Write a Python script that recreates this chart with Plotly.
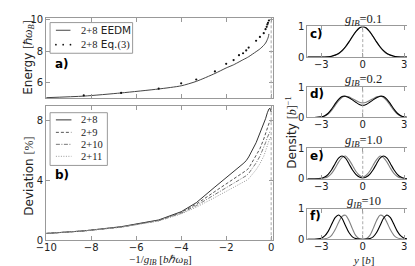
import plotly.graph_objects as go

W, H = 415, 266
def fx(p): return p / W
def fy(p): return 1 - p / H

SERIF = "Liberation Serif"
SANS = "DejaVu Sans"

# ---------------- data ----------------
# panel a: energy vs -1/g_IB
x_eedm = [-10, -8.33, -6.67, -5, -4, -3.33, -2.5, -2, -1.67, -1.43, -1.25, -1.11, -1,
          -0.67, -0.5, -0.33, -0.25, -0.2, -0.17, -0.14, -0.12, -0.1]
e_eedm = [5.07, 5.17, 5.37, 5.62, 5.82, 6.1, 6.6, 6.95, 7.15, 7.33, 7.47, 7.57, 7.66,
          7.98, 8.15, 8.38, 8.52, 8.65, 8.75, 8.85, 8.95, 9.1]
x_eq3 = [-8.33, -6.67, -5, -4, -3.33, -2.5, -2, -1.67, -1.43, -1.25, -1.11, -1,
         -0.67, -0.5, -0.33, -0.25, -0.2, -0.17, -0.14, -0.1]
e_eq3 = [5.21, 5.37, 5.64, 5.98, 6.22, 6.73, 7.21, 7.45, 7.76, 7.88, 8.06, 8.24,
         8.67, 8.91, 9.15, 9.4, 9.55, 9.7, 9.8, 9.95]

# panel b: deviation [%]
x_dev = [-10, -8.33, -6.67, -5, -4, -3.33, -2.5, -2, -1.67, -1.43, -1.25, -1.11, -1,
         -0.67, -0.5, -0.33, -0.25, -0.17, -0.1, -0.05, 0]
dev_8 = [0.45, 0.62, 0.9, 1.35, 1.9, 2.5, 3.55, 4.15, 4.55, 4.85, 5.1, 5.3, 5.55,
         6.5, 7.1, 7.7, 8.1, 8.5, 8.75, 8.8, 8.55]
dev_9 = [0.45, 0.62, 0.88, 1.32, 1.85, 2.4, 3.25, 3.75, 4.05, 4.3, 4.5, 4.65, 4.8,
         5.6, 6.1, 6.75, 7.15, 7.55, 7.85, 8.0, 7.9]
dev_10 = [0.45, 0.62, 0.87, 1.3, 1.8, 2.3, 3.05, 3.5, 3.75, 3.97, 4.15, 4.3, 4.45,
          5.15, 5.6, 6.15, 6.5, 6.85, 7.1, 7.25, 7.2]
dev_11 = [0.45, 0.61, 0.86, 1.28, 1.75, 2.2, 2.85, 3.25, 3.5, 3.7, 3.85, 3.98, 4.1,
          4.7, 5.1, 5.6, 5.95, 6.3, 6.6, 6.85, 6.85]
dev_names = ["2+8", "2+9", "2+10", "2+11"]

# panels c-f: densities (half profile, y >= 0; the profiles are symmetric)
y_half = [0, 0.25, 0.5, 0.75, 1.0, 1.25, 1.5, 1.75, 2.0, 2.25, 2.5, 2.75, 3.0, 3.5, 4.0]
g_labels = ["0.1", "0.2", "1.0", "10"]
panel_tags = ["c)", "d)", "e)", "f)"]
dens_black = [
    [1.0, 0.96, 0.84, 0.68, 0.5, 0.34, 0.21, 0.12, 0.065, 0.03, 0.013, 0.005, 0.002, 0, 0],
    [0.40, 0.43, 0.50, 0.58, 0.65, 0.70, 0.69, 0.60, 0.45, 0.28, 0.14, 0.06, 0.02, 0, 0],
    [0.03, 0.06, 0.15, 0.3, 0.5, 0.68, 0.75, 0.68, 0.5, 0.3, 0.15, 0.06, 0.02, 0, 0],
    [0.0, 0.003, 0.02, 0.08, 0.22, 0.45, 0.69, 0.8, 0.71, 0.49, 0.26, 0.11, 0.035, 0.002, 0],
]
dens_gray = [
    [1.0, 0.96, 0.84, 0.67, 0.49, 0.33, 0.2, 0.11, 0.06, 0.027, 0.011, 0.004, 0.001, 0, 0],
    [0.48, 0.50, 0.56, 0.62, 0.68, 0.70, 0.66, 0.55, 0.39, 0.23, 0.11, 0.045, 0.015, 0, 0],
    [0.06, 0.12, 0.25, 0.45, 0.63, 0.75, 0.7, 0.55, 0.35, 0.18, 0.08, 0.03, 0.01, 0, 0],
    [0.0, 0.02, 0.12, 0.35, 0.62, 0.79, 0.75, 0.55, 0.31, 0.13, 0.045, 0.012, 0.003, 0, 0],
]

def mirror(yh, vh):
    ys = [-v for v in yh[::-1]] + yh[1:]
    vs = vh[::-1] + vh[1:]
    return ys, vs

# ---------------- figure ----------------
fig = go.Figure()

fig.add_trace(go.Scatter(x=x_eedm, y=e_eedm, mode="lines",
                         line=dict(color="#444", width=1, shape="spline", smoothing=0.6),
                         xaxis="x", yaxis="y", showlegend=False))
fig.add_trace(go.Scatter(x=x_eq3, y=e_eq3, mode="markers",
                         marker=dict(color="#111", size=2.2),
                         xaxis="x", yaxis="y", showlegend=False))

dev_styles = [("#333", "solid"), ("#555", "3px,2px"), ("#777", "4px,1.5px,1px,1.5px"), ("#999", "1px,1.5px")]
for vals, (c, d) in zip([dev_8, dev_9, dev_10, dev_11], dev_styles):
    fig.add_trace(go.Scatter(x=x_dev, y=vals, mode="lines",
                             line=dict(color=c, width=1, dash=d),
                             xaxis="x2", yaxis="y2", showlegend=False))

for i in range(4):
    ax = str(i + 3)
    ys, vg = mirror(y_half, dens_gray[i])
    fig.add_trace(go.Scatter(x=ys, y=vg, mode="lines",
                             line=dict(color="#808080", width=1.1, shape="spline", smoothing=0.8),
                             xaxis="x" + ax, yaxis="y" + ax, showlegend=False))
    ys, vb = mirror(y_half, dens_black[i])
    fig.add_trace(go.Scatter(x=ys, y=vb, mode="lines",
                             line=dict(color="#000", width=1.1, shape="spline", smoothing=0.8),
                             xaxis="x" + ax, yaxis="y" + ax, showlegend=False))

axis_style = dict(showline=True, linecolor="#999", linewidth=1, mirror="ticks",
                  ticks="inside", ticklen=4, tickcolor="#999", showgrid=False,
                  zeroline=False, tickfont=dict(family=SANS, size=10, color="#222"))

layout = dict(
    width=W, height=H, margin=dict(l=0, r=0, t=0, b=0),
    paper_bgcolor="white", plot_bgcolor="white", showlegend=False,
    xaxis=dict(domain=[fx(28), fx(262)], range=[-10, 0.1], tickvals=[-10, -8, -6, -4, -2, 0],
               showticklabels=False, anchor="y", **axis_style),
    yaxis=dict(domain=[fy(89), fy(5)], range=[5.03, 10.12], tickvals=[6, 8, 10], anchor="x", **axis_style),
    xaxis2=dict(domain=[fx(28), fx(262)], range=[-10, 0.1], tickvals=[-10, -8, -6, -4, -2, 0],
                anchor="y2", ticklabelstandoff=-2, **axis_style),
    yaxis2=dict(domain=[fy(237), fy(97)], range=[0, 8.95], tickvals=[0, 4, 8], anchor="x2",
                **axis_style),
)
tops = [14, 77, 141, 204]
for i, t in enumerate(tops):
    n = str(i + 3)
    layout["xaxis" + n] = dict(domain=[fx(297), fx(411)], range=[-4, 4], tickvals=[-3, 0, 3],
                               anchor="y" + n, ticklabelstandoff=-2, **axis_style)
    layout["yaxis" + n] = dict(domain=[fy(t + 32), fy(t)], range=[0, 1.01], tickvals=[0, 1],
                               anchor="x" + n, **axis_style)
fig.update_layout(**layout)

# dashed reference lines at zero
shapes = []
for xr, yr in [("x", "y"), ("x2", "y2"), ("x3", "y3"), ("x4", "y4"), ("x5", "y5"), ("x6", "y6")]:
    shapes.append(dict(type="line", xref=xr, yref=yr + " domain", x0=0, x1=0, y0=0, y1=1,
                       line=dict(color="#aaa", width=1, dash="3px,2px")))

# legend boxes (drawn manually)
shapes.append(dict(type="rect", xref="paper", yref="paper", x0=fx(32), x1=fx(117), y0=fy(42), y1=fy(10),
                   line=dict(color="#999", width=1), fillcolor="white"))
shapes.append(dict(type="line", xref="paper", yref="paper", x0=fx(38), x1=fx(53), y0=fy(18), y1=fy(18),
                   line=dict(color="#444", width=1)))
for dx in [38, 45.5, 53]:
    shapes.append(dict(type="circle", xref="paper", yref="paper", x0=fx(dx - 0.9), x1=fx(dx + 0.9),
                       y0=fy(33.9), y1=fy(32.1), line=dict(width=0), fillcolor="#111"))
shapes.append(dict(type="rect", xref="paper", yref="paper", x0=fx(32), x1=fx(91), y0=fy(159), y1=fy(104),
                   line=dict(color="#999", width=1), fillcolor="white"))
leg_y = [111.5, 124.5, 137, 149.5]
for yy, (c, d) in zip(leg_y, dev_styles):
    shapes.append(dict(type="line", xref="paper", yref="paper", x0=fx(38), x1=fx(54), y0=fy(yy), y1=fy(yy),
                       line=dict(color=c, width=1, dash=d)))
fig.update_layout(shapes=shapes)

ann = []
def A(text, x, y, size=11, family=SANS, angle=0, xanchor="center", color="#222"):
    ann.append(dict(text=text, x=fx(x), y=fy(y), xref="paper", yref="paper", showarrow=False,
                    font=dict(family=family, size=size, color=color), textangle=angle,
                    xanchor=xanchor, yanchor="middle"))

S = "<span style='font-family:%s'>" % SERIF
A("Energy " + S + "[ℏ<i>ω</i><sub><i>B</i></sub>]</span>", 10, 47, size=12, angle=-90)
A("Deviation " + S + "[%]</span>", 10, 170, size=12, angle=-90)
A("Density " + S + "[<i>b</i>]<sup>−1</sup></span>", 281, 125, size=12, angle=-90)
A("−1/<i>g</i><sub><i>IB</i></sub> [<i>bℏω</i><sub><i>B</i></sub>]", 146, 257.5, size=11, family=SERIF)
A("<i>y</i> [<i>b</i>]", 355, 257.5, size=11, family=SERIF)

A(S + "2+8</span> EEDM", 62, 18, size=10.5, xanchor="left")
A(S + "2+8</span> Eq." + S + "(3)</span>", 62, 33, size=10.5, xanchor="left")
for yy, nm in zip(leg_y, dev_names):
    A(nm, 62, yy, size=10.5, family=SERIF, xanchor="left")

A("<b>a)</b>", 35, 53, size=12, xanchor="left", color="#000")
A("<b>b)</b>", 35, 169, size=12, xanchor="left", color="#000")
for t, tag, g in zip(tops, panel_tags, g_labels):
    A("<b>%s</b>" % tag, 298, t + 8, size=12, xanchor="left", color="#000")
    A("<i>g</i><sub><i>IB</i></sub>=" + g, 355, t - 7, size=12.5, family=SERIF)

fig.update_layout(annotations=ann)
fig.write_html("out.html")
